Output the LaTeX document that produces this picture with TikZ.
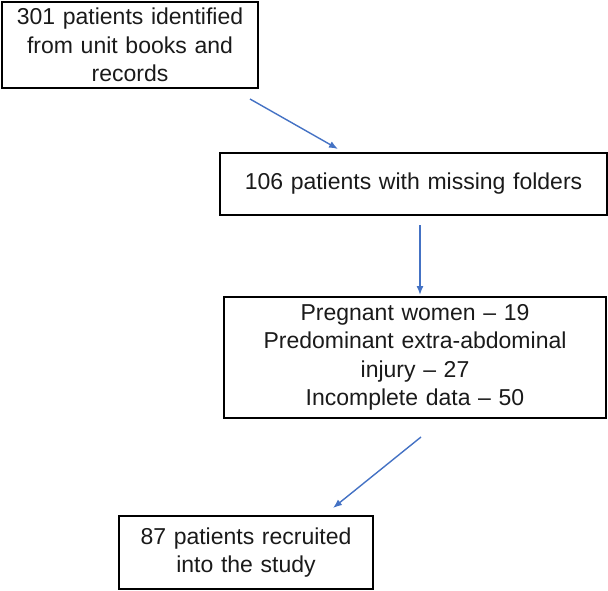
\documentclass[tikz,border=0pt]{standalone}
\usepackage{fontspec}
\setmainfont{Liberation Sans}
\usepackage{tikz}
\usetikzlibrary{arrows.meta, positioning}
\definecolor{flowblue}{HTML}{4472C4}
\definecolor{flowtext}{HTML}{1A1A1A}

\begin{document}
\begin{tikzpicture}[
  x=1pt, y=-1pt,
  flowbox/.style={draw, line width=2pt, align=center, inner sep=0pt, outer sep=0pt,
    text=flowtext, font=\fontsize{23}{28.5}\selectfont},
  arrow/.style={-{Latex[length=9pt, width=7pt]}, draw=flowblue, line width=1.4pt}
]
\useasboundingbox (0,0) rectangle (608,591);
\node[flowbox, minimum width=256pt, minimum height=86pt, text width=246pt] (found) at (130,45)
  {301 patients identified\\from unit books and\\records};
\node[flowbox, minimum width=387pt, minimum height=62pt, text width=377pt,
  below=65pt of found, xshift=283.5pt] (missing)
  {106 patients with missing folders};
\node[flowbox, minimum width=382pt, minimum height=121pt, text width=372pt,
  below=82pt of missing, xshift=1.5pt] (excl)
  {Pregnant women – 19\\Predominant extra-abdominal\\injury – 27\\Incomplete data – 50};
\node[flowbox, minimum width=254pt, minimum height=73pt, text width=244pt,
  below=98pt of excl, xshift=-169pt] (study)
  {87 patients recruited\\into the study};
% free arrow ends
\coordinate (a1s) at (250,99);
\coordinate (a1e) at (338,149);
\coordinate (a2s) at (420,225);
\coordinate (a2e) at (420,295);
\coordinate (a3s) at (421,437);
\coordinate (a3e) at (333,508);
\draw[arrow] (a1s) -- (a1e);
\draw[arrow] (a2s) -- (a2e);
\draw[arrow] (a3s) -- (a3e);
\end{tikzpicture}
\end{document}
